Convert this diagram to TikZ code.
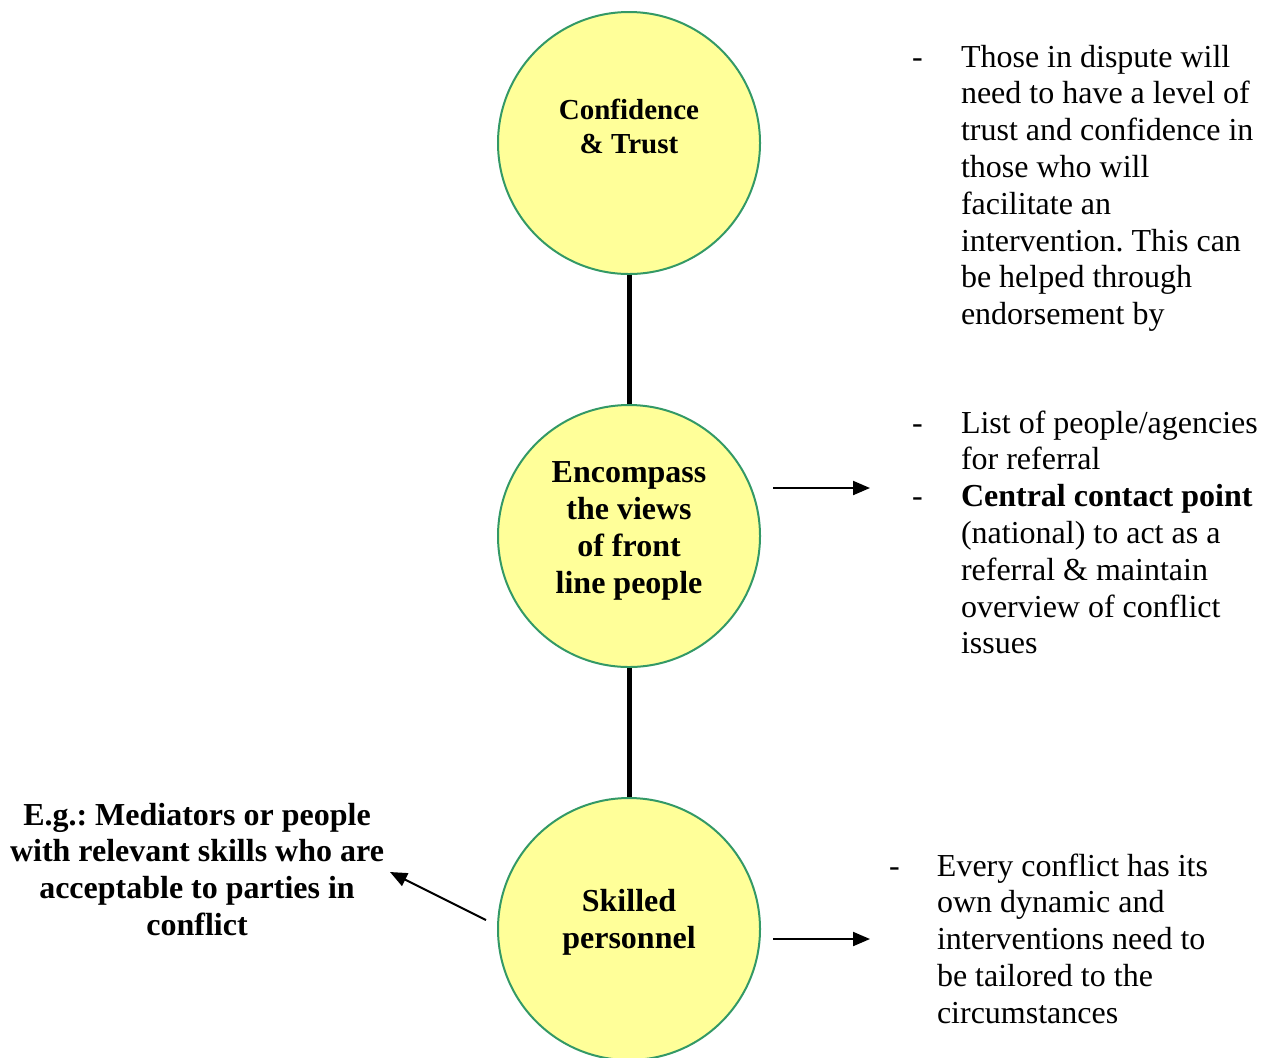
\documentclass[tikz,border=0pt]{standalone}
\usepackage{fontspec}
\setmainfont{Liberation Serif}
\usetikzlibrary{arrows.meta}
\definecolor{circfill}{HTML}{FFFF99}
\definecolor{circdraw}{RGB}{51,153,102}
\tikzset{
  bubble/.style={circle, draw=circdraw, line width=1pt, fill=circfill, minimum size=131pt, inner sep=0pt},
  link/.style={line width=2.5pt, black},
  pointer/.style={line width=1pt, -{Triangle[length=8.5pt,width=7pt]}},
  txt/.style={inner sep=0pt, outer sep=0pt, font=\fontsize{16}{18.4}\selectfont},
}
\frenchspacing
\begin{document}
\frenchspacing
\begin{tikzpicture}[x=0.5pt,y=-0.5pt]
\useasboundingbox (0,0) rectangle (1261,1057);
% circles
\node[bubble] (c1) at (629,143) {};
\node[bubble] (c2) at (629,536) {};
\node[bubble] (c3) at (629,929) {};
\draw[link] (c1.south) -- (c2.north);
\draw[link] (c2.south) -- (c3.north);
% circle texts
\node[txt, anchor=base, font=\fontsize{14.5}{17}\selectfont\bfseries] (t1) at (629,119)
  {\begin{tabular}[t]{@{}c@{}}Confidence\\ \& Trust\end{tabular}};
\node[txt, anchor=base, font=\fontsize{16}{18.5}\selectfont\bfseries] (t2) at (629,482)
  {\begin{tabular}[t]{@{}c@{}}Encompass\\ the views\\ of front\\ line people\end{tabular}};
\node[txt, anchor=base, font=\fontsize{16}{18.5}\selectfont\bfseries] (t3) at (629,911)
  {\begin{tabular}[t]{@{}c@{}}Skilled\\ personnel\end{tabular}};
% right text blocks
\node[txt, anchor=base west] (r1) at (912,67)
  {\begin{tabular}[t]{@{}p{24.5pt}@{}l@{}}
  - & Those in dispute will\\
    & need to have a level of\\
    & trust and confidence in\\
    & those who will\\
    & facilitate an\\
    & intervention. This can\\
    & be helped through\\
    & endorsement by
  \end{tabular}};
\node[txt, anchor=base west] (r2) at (912,433)
  {\begin{tabular}[t]{@{}p{24.5pt}@{}l@{}}
  - & List of people/agencies\\
    & for referral\\
  - & \textbf{Central contact point}\\
    & (national) to act as a\\
    & referral \& maintain\\
    & overview of conflict\\
    & issues
  \end{tabular}};
\node[txt, anchor=base west] (r3) at (889,876)
  {\begin{tabular}[t]{@{}p{24pt}@{}l@{}}
  - & Every conflict has its\\
    & own dynamic and\\
    & interventions need to\\
    & be tailored to the\\
    & circumstances
  \end{tabular}};
% left text
\node[txt, anchor=base, font=\fontsize{16}{18.4}\selectfont\bfseries] (l3) at (197,825)
  {\begin{tabular}[t]{@{}c@{}}E.g.: Mediators or people\\ with relevant skills who are\\ acceptable to parties in\\ conflict\end{tabular}};
% arrows
\coordinate (a2s) at (773,488);
\coordinate (a2e) at (870,488);
\coordinate (a3s) at (773,939);
\coordinate (a3e) at (870,939);
\coordinate (a4s) at (486,920);
\coordinate (a4e) at (390,872);
\draw[pointer] (a2s) -- (a2e);
\draw[pointer] (a3s) -- (a3e);
\draw[pointer] (a4s) -- (a4e);
\end{tikzpicture}
\end{document}
